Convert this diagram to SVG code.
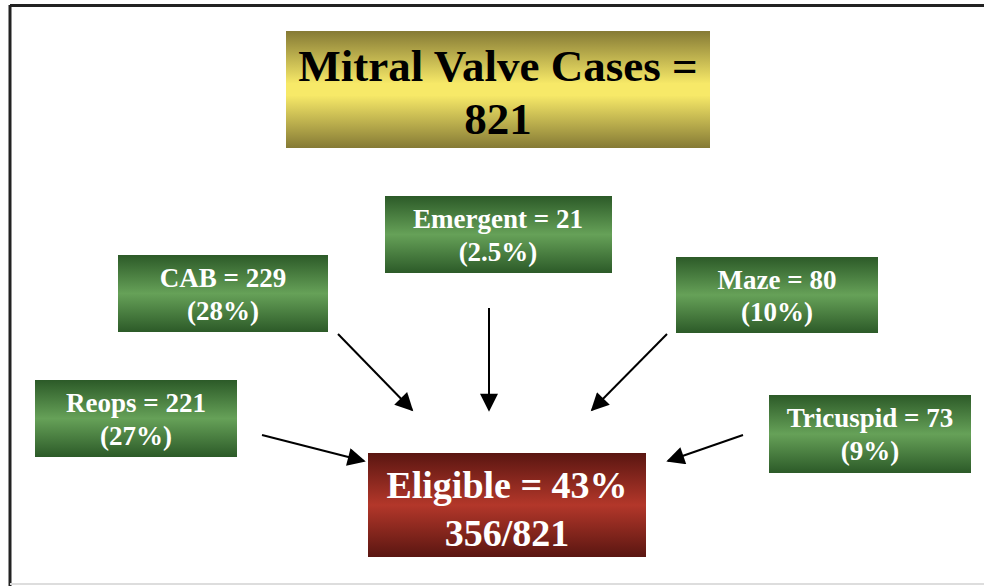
<svg xmlns="http://www.w3.org/2000/svg" width="984" height="586" viewBox="0 0 984 586">
<defs>
<linearGradient id="gy" x1="0" y1="0" x2="0" y2="1">
<stop offset="0" stop-color="#857a35"/><stop offset="0.45" stop-color="#f7e968"/><stop offset="0.55" stop-color="#f7e968"/><stop offset="1" stop-color="#857a35"/>
</linearGradient>
<linearGradient id="gg" x1="0" y1="0" x2="0" y2="1">
<stop offset="0" stop-color="#2c5a28"/><stop offset="0.5" stop-color="#66a158"/><stop offset="1" stop-color="#2c5a28"/>
</linearGradient>
<linearGradient id="gr" x1="0" y1="0" x2="0" y2="1">
<stop offset="0" stop-color="#5a1611"/><stop offset="0.5" stop-color="#b3372a"/><stop offset="1" stop-color="#5a1611"/>
</linearGradient>
<marker id="ah" viewBox="0 0 10 10" refX="9" refY="5" markerWidth="10" markerHeight="9" markerUnits="strokeWidth" orient="auto">
<path d="M0,0 L10,5 L0,10 z" fill="#000"/>
</marker>
<style>
.t{font-family:"Liberation Serif","Times New Roman",serif;font-weight:bold;text-anchor:middle}
.w{fill:#fff;font-size:27px}
.c{stroke:#000;stroke-width:2;fill:none;marker-end:url(#ah)}
</style>
</defs>
<rect width="984" height="586" fill="#fff"/>
<g id="frame">
<line x1="10" y1="5.5" x2="984" y2="5.5" stroke="#222" stroke-width="3"/>
<line x1="10" y1="5" x2="10" y2="586" stroke="#222" stroke-width="3"/>
<line x1="10" y1="584" x2="984" y2="584" stroke="#ddd" stroke-width="2"/>
</g>
<g id="title">
<rect x="286" y="31" width="424" height="117" fill="url(#gy)"/>
<text class="t" x="498" y="81" font-size="45" fill="#000">Mitral Valve Cases =</text>
<text class="t" x="498" y="134" font-size="45" fill="#000">821</text>
</g>
<g id="emergent">
<rect x="385" y="196" width="227" height="77" fill="url(#gg)"/>
<text class="t w" x="498" y="228">Emergent = 21</text>
<text class="t w" x="498" y="261">(2.5%)</text>
</g>
<g id="cab">
<rect x="118" y="255" width="210" height="77" fill="url(#gg)"/>
<text class="t w" x="223" y="287">CAB = 229</text>
<text class="t w" x="223" y="320">(28%)</text>
</g>
<g id="maze">
<rect x="676" y="257" width="202" height="76" fill="url(#gg)"/>
<text class="t w" x="777" y="289">Maze = 80</text>
<text class="t w" x="777" y="321">(10%)</text>
</g>
<g id="reops">
<rect x="35" y="380" width="202" height="77" fill="url(#gg)"/>
<text class="t w" x="136" y="412">Reops = 221</text>
<text class="t w" x="136" y="445">(27%)</text>
</g>
<g id="tricuspid">
<rect x="769" y="395" width="202" height="78" fill="url(#gg)"/>
<text class="t w" x="870" y="427">Tricuspid = 73</text>
<text class="t w" x="870" y="460">(9%)</text>
</g>
<g id="eligible">
<rect x="368" y="453" width="278" height="104" fill="url(#gr)"/>
<text class="t" x="507" y="498" font-size="38" fill="#fff">Eligible = 43%</text>
<text class="t" x="507" y="546" font-size="38" fill="#fff">356/821</text>
</g>
<g id="connectors">
<line class="c" x1="338" y1="334" x2="412" y2="410"/>
<line class="c" x1="489" y1="308" x2="489" y2="410"/>
<line class="c" x1="667" y1="334" x2="592" y2="410"/>
<line class="c" x1="262" y1="435" x2="364" y2="461"/>
<line class="c" x1="743" y1="435" x2="668" y2="461"/>
</g>
</svg>
